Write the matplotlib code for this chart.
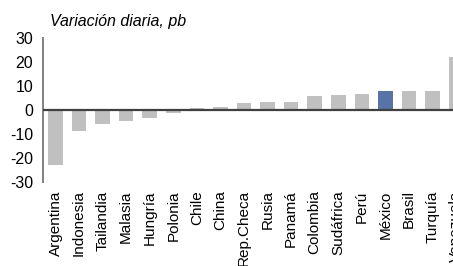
import numpy as np
import matplotlib
matplotlib.use("Agg")
import matplotlib.pyplot as plt

plt.rcParams["font.family"] = ["Liberation Sans", "DejaVu Sans"]

# datos: variación diaria en pb
paises = ["Argentina", "Indonesia", "Tailandia", "Malasia", "Hungría", "Polonia",
          "Chile", "China", "Rep.Checa", "Rusia", "Panamá", "Colombia",
          "Sudáfrica", "Perú", "México", "Brasil", "Turquía", "Venezuela"]
variacion = [-23.0, -8.7, -5.8, -4.4, -3.2, -1.1,
             0.7, 1.1, 2.9, 3.5, 3.5, 5.8,
             6.4, 6.8, 8.0, 8.0, 8.0, 22.0]
destacado = "México"
yticks = [-30, -20, -10, 0, 10, 20, 30]

fig = plt.figure(figsize=(4.53, 2.66), dpi=100)
ax = fig.add_axes([0.0949, 0.316, 0.938, 0.541])

x = np.arange(len(paises))
colores = ["#5873A7" if p == destacado else "#C0C0C0" for p in paises]
ax.bar(x, variacion, width=0.62, color=colores, zorder=2)
ax.axhline(0, color="#404040", linewidth=1.6, zorder=3)

ax.set_xlim(-0.53, len(paises) - 0.5)
ax.set_ylim(-30, 30)
ax.set_yticks(yticks)
ax.set_yticklabels([str(v) for v in yticks])
ax.set_xticks(x)
ax.set_xticklabels(paises, rotation=90)
ax.tick_params(axis="y", length=0, labelsize=11.5, pad=7)
ax.tick_params(axis="x", length=0, labelsize=11, pad=6)

for s in ["top", "right", "bottom"]:
    ax.spines[s].set_visible(False)
ax.spines["left"].set_color("#808080")
ax.spines["left"].set_linewidth(1.4)

fig.text(50 / 453, 1 - 22 / 266, "Variación diaria, pb", fontsize=11.5,
         style="italic", va="center", ha="left")

fig.savefig("out.png", dpi=100)
